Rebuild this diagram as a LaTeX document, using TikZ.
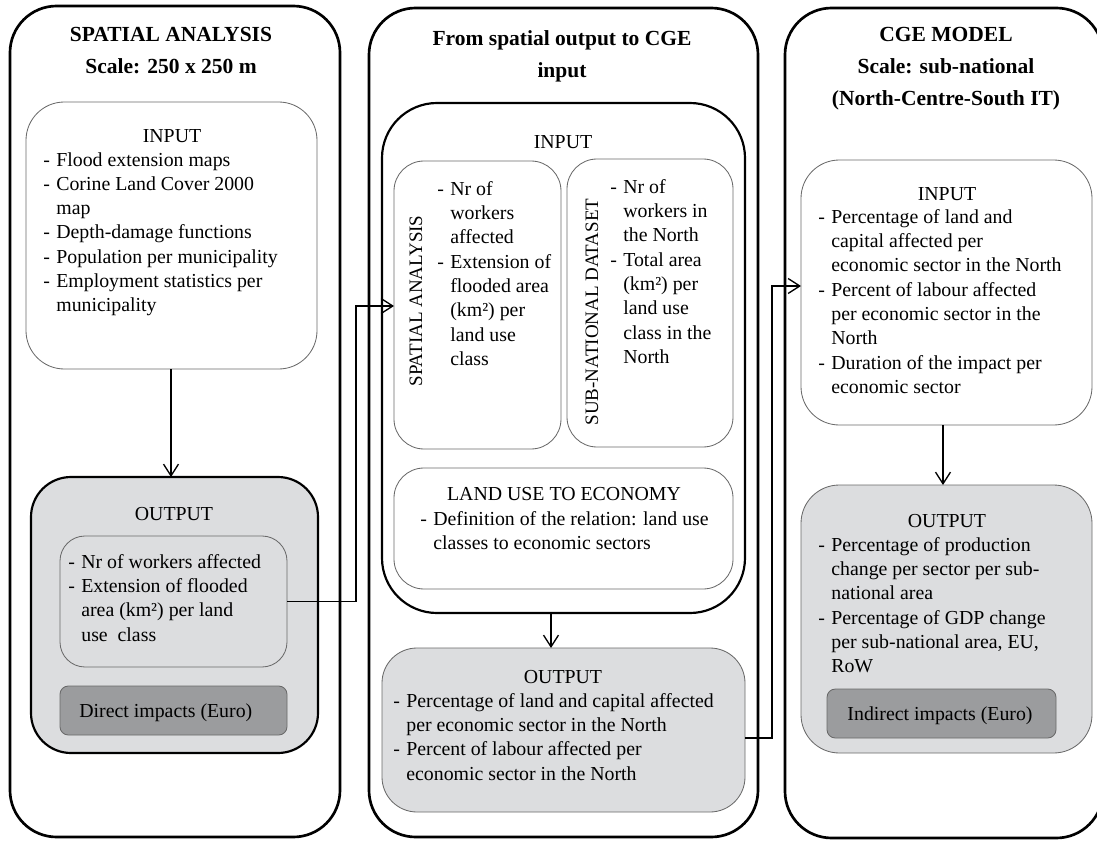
\documentclass[tikz,border=0pt]{standalone}
\usepackage{fontspec}
\setmainfont{Liberation Serif}
\usetikzlibrary{arrows.meta}
\definecolor{boxgray}{RGB}{220,221,223}
\definecolor{darkbox}{RGB}{155,156,158}
\definecolor{thinline}{RGB}{105,105,105}
\newcommand\dsh{\makebox[7.8pt][l]{-}}
\newcommand\myind{\hspace*{7.8pt}}
\newcommand\mylines[1]{\begin{tabular}[t]{@{}l@{}}#1\end{tabular}}
\newcommand\myclines[1]{\begin{tabular}[t]{@{}c@{}}#1\end{tabular}}
\begin{document}
\begin{tikzpicture}[x=0.6pt, y=-0.6pt,
  box/.style={rectangle, inner sep=0pt, outer sep=0pt},
  outerbox/.style={box, draw=black, line width=1.6pt, rounded corners=28pt},
  thinbox/.style={box, draw=thinline, line width=0.5pt},
  thickbox/.style={box, draw=black, line width=1.3pt},
  txt/.style={inner sep=0pt, font=\fontsize{11.9}{14.6}\selectfont},
  rtxt/.style={inner sep=0pt, font=\fontsize{11.4}{14.6}\selectfont},
  ttl/.style={inner sep=0pt, font=\fontsize{12.9}{18.6}\selectfont\bfseries},
  arr/.style={-{Straight Barb[length=7pt,width=9pt]}, line width=0.8pt}]
\useasboundingbox (0,0) rectangle (1097,841);

% ---------- outer columns ----------
\node[outerbox, minimum width=330*0.6pt, minimum height=831*0.6pt] (Lo) at (175,421.5) {};
\node[outerbox, minimum width=389*0.6pt, minimum height=829*0.6pt] (Mo) at (563.5,422.5) {};
\node[outerbox, minimum width=318*0.6pt, minimum height=830*0.6pt] (Ro) at (944,423) {};

% ---------- left column ----------
\node[ttl, anchor=base] (Lt) at (171,42) {\myclines{SPATIAL ANALYSIS\\Scale: 250 x 250 m}};
\node[thinbox, rounded corners=23pt, minimum width=291*0.6pt, minimum height=267*0.6pt] (Lin) at (171.5,235.5) {};
\node[txt, anchor=base] (Lint) at (172,142) {INPUT};
\node[txt, anchor=base west] (Linl) at (43,166) {\mylines{\dsh Flood extension maps\\
\dsh Corine Land Cover 2000\\ \myind map\\ \dsh Depth-damage functions\\
\dsh Population per municipality\\ \dsh Employment statistics per\\ \myind municipality}};

\node[thickbox, fill=boxgray, rounded corners=24pt, minimum width=287*0.6pt, minimum height=276*0.6pt] (Lout) at (174.5,615) {};
\node[txt, anchor=base] (Loutt) at (174,520) {OUTPUT};
\node[thinbox, fill=boxgray, rounded corners=15pt, minimum width=227*0.6pt, minimum height=131*0.6pt] (Loi) at (173.5,601.5) {};
\node[txt, anchor=base west] (Loil) at (68,568) {\mylines{\dsh Nr of workers affected\\
\dsh Extension of flooded\\ \myind area (km²) per land\\ \myind use\ \ class}};
\node[thinbox, fill=darkbox, rounded corners=5pt, minimum width=227*0.6pt, minimum height=49*0.6pt] (Ld) at (173.5,710.5) {};
\node[txt, anchor=base west] (Ldt) at (79,717) {Direct impacts (Euro)};

% ---------- middle column ----------
\node[ttl, anchor=base] (Mt) at (562,45) {\myclines{From spatial output to CGE\\[1.1pt] input}};
\node[thickbox, rounded corners=33pt, minimum width=363*0.6pt, minimum height=510*0.6pt] (Min) at (563.5,358) {};
\node[txt, anchor=base] (Mint) at (563,148) {INPUT};

\node[thinbox, rounded corners=18pt, minimum width=167*0.6pt, minimum height=288*0.6pt] (Msa) at (477.5,305) {};
\node[rtxt, rotate=90] (Msal) at (416,301) {SPATIAL ANALYSIS};
\node[txt, anchor=base west] (Msat) at (437,195) {\mylines{\dsh Nr of\\ \myind workers\\ \myind affected\\
\dsh Extension of\\ \myind flooded area\\ \myind (km²) per\\ \myind land use\\ \myind class}};

\node[thinbox, rounded corners=18pt, minimum width=166*0.6pt, minimum height=288*0.6pt] (Msn) at (650,303) {};
\node[rtxt, rotate=90] (Msnl) at (592,312) {SUB-NATIONAL DATASET};
\node[txt, anchor=base west] (Msnt) at (610,193) {\mylines{\dsh Nr of\\ \myind workers in\\ \myind the North\\
\dsh Total area\\ \myind (km²) per\\ \myind land use\\ \myind class in the\\ \myind North}};

\node[thinbox, rounded corners=18pt, minimum width=339*0.6pt, minimum height=121*0.6pt] (Ml) at (563.5,528.5) {};
\node[txt, anchor=base] (Mlt) at (564,500) {LAND USE TO ECONOMY};
\node[txt, anchor=base west] (Mll) at (420,525) {\mylines{\dsh Definition of the relation: land use\\
\myind classes to economic sectors}};

\node[thinbox, fill=boxgray, rounded corners=21pt, minimum width=363*0.6pt, minimum height=164*0.6pt] (Mout) at (563.5,730) {};
\node[txt, anchor=base] (Moutt) at (563,683) {OUTPUT};
\node[txt, anchor=base west] (Moutl) at (393,707) {\mylines{\dsh Percentage of land and capital affected\\
\myind per economic sector in the North\\ \dsh Percent of labour affected per\\ \myind economic sector in the North}};

% ---------- right column ----------
\node[ttl, anchor=base] (Rt) at (946,42) {\myclines{CGE MODEL\\Scale: sub-national\\[1pt](North-Centre-South IT)}};
\node[thinbox, rounded corners=23pt, minimum width=291*0.6pt, minimum height=265*0.6pt] (Rin) at (946.5,292.5) {};
\node[txt, anchor=base] (Rint) at (947,200) {INPUT};
\node[txt, anchor=base west] (Rinl) at (818,223) {\mylines{\dsh Percentage of land and\\
\myind capital affected per\\ \myind economic sector in the North\\ \dsh Percent of labour affected\\
\myind per economic sector in the\\ \myind North\\ \dsh Duration of the impact per\\ \myind economic sector}};

\node[thinbox, fill=boxgray, rounded corners=23pt, minimum width=291*0.6pt, minimum height=268*0.6pt] (Rout) at (946.5,619) {};
\node[txt, anchor=base] (Routt) at (947,527) {OUTPUT};
\node[txt, anchor=base west] (Routl) at (818,551) {\mylines{\dsh Percentage of production\\
\myind change per sector per sub-\\ \myind national area\\ \dsh Percentage of GDP change\\
\myind per sub-national area, EU,\\ \myind RoW}};
\node[thinbox, fill=darkbox, rounded corners=5pt, minimum width=229*0.6pt, minimum height=49*0.6pt] (Rd) at (941.5,713.5) {};
\node[txt, anchor=base] (Rdt) at (940,720) {Indirect impacts (Euro)};

% ---------- connectors ----------
\coordinate (j1) at (356,306);
\coordinate (j2) at (772,286);
\draw[arr] (Lin.south -| 171,0) -- (Lout.north -| 171,0);
\draw[arr] (Loi.east) -| (j1) -- (j1 -| Msa.west);
\draw[arr] (Min.south -| 551,0) -- (Mout.north -| 551,0);
\draw[arr] ([yshift=-8*0.6pt]Mout.east) -| (j2) -- (j2 -| Rin.west);
\draw[arr] (Rin.south -| 943,0) -- (Rout.north -| 943,0);
\end{tikzpicture}
\end{document}
